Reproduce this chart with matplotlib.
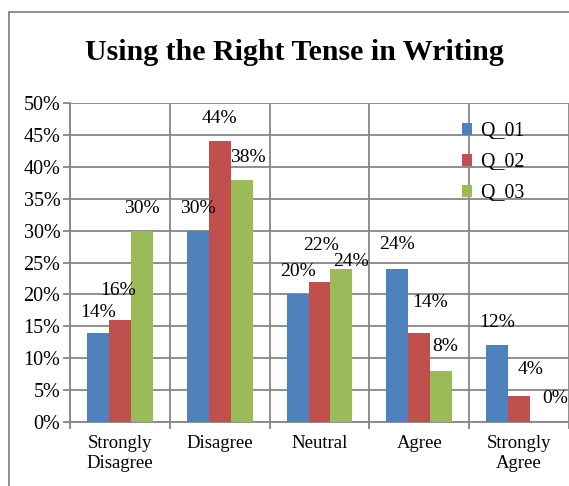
import numpy as np
import matplotlib.pyplot as plt
from matplotlib.patches import Rectangle
from matplotlib.ticker import PercentFormatter

categories = ['Strongly\nDisagree', 'Disagree', 'Neutral', 'Agree', 'Strongly\nAgree']
series = ['Q_01', 'Q_02', 'Q_03']
q01 = [14, 30, 20, 24, 12]
q02 = [16, 44, 22, 14, 4]
q03 = [30, 38, 24, 8, 0]

colors = ['#4F81BD', '#C0504D', '#9BBB59']

# label nudges (pixels) to mimic the Excel placement
label_dx = [[0, 0, 0, 0, 0],
            [-2, 0, 2, 11, 11],
            [0, 6, 10, 4, 14]]
label_dy = [[20, 22, 23, 24, 23],
            [29, 23, 36, 30, 27],
            [22, 22, 7, 24, 24]]

plt.rcParams['font.family'] = ['Liberation Serif', 'DejaVu Serif']

fig = plt.figure(figsize=(5.69, 4.86), dpi=100)
W, H = 569, 486

# chart border
fig.patches.append(Rectangle((9 / W, -0.05), 1.2, (H - 12) / H + 0.05,
                             transform=fig.transFigure, fill=False,
                             edgecolor='#868686', linewidth=1.3, clip_on=False))

ax = fig.add_axes([70 / W, 64 / H, (W - 70) / W, 319 / H])

x = np.arange(len(categories))
width = 0.22
data = [q01, q02, q03]
for i, (name, vals) in enumerate(zip(series, data)):
    pos = x + (i - 1) * width
    ax.bar(pos, vals, width, color=colors[i], label=name, zorder=3)
    for j, v in enumerate(vals):
        ax.annotate(f'{v}%', (pos[j], v), xytext=(label_dx[i][j], label_dy[i][j]),
                    textcoords='offset pixels', ha='center', va='center',
                    fontsize=14, zorder=4)

ax.set_ylim(0, 50)
ax.set_xlim(-0.5, len(categories) - 0.5)
ax.set_yticks(np.arange(0, 51, 5))
ax.yaxis.set_major_formatter(PercentFormatter(decimals=0))
ax.set_xticks(x)
ax.set_xticklabels(categories, fontsize=13.5, linespacing=1.3)
ax.set_xticks(np.arange(-0.5, len(categories), 1), minor=True)
ax.tick_params(axis='x', which='major', length=0, pad=9)
ax.tick_params(axis='x', which='minor', length=5, width=1.3, color='#868686')
ax.tick_params(axis='y', length=5, width=1.3, color='#868686', labelsize=14.5, pad=2)

ax.grid(axis='y', color='#868686', linewidth=1.3, zorder=0)
ax.grid(axis='x', which='minor', color='#868686', linewidth=1.3, zorder=0)
for s in ['top', 'right']:
    ax.spines[s].set_visible(False)
for s in ['left', 'bottom']:
    ax.spines[s].set_color('#868686')
    ax.spines[s].set_linewidth(1.3)

fig.text(0.518, (H - 52) / H, 'Using the Right Tense in Writing', ha='center',
         va='center', fontsize=21.5, fontweight='bold')

ax.legend(loc='upper left', bbox_to_anchor=(384 / (W - 70), 0.965), frameon=False,
          fontsize=14.3, handlelength=0.5, handleheight=0.5, handletextpad=0.4,
          labelspacing=0.6, borderaxespad=0)

fig.savefig('out.png', dpi=100)
